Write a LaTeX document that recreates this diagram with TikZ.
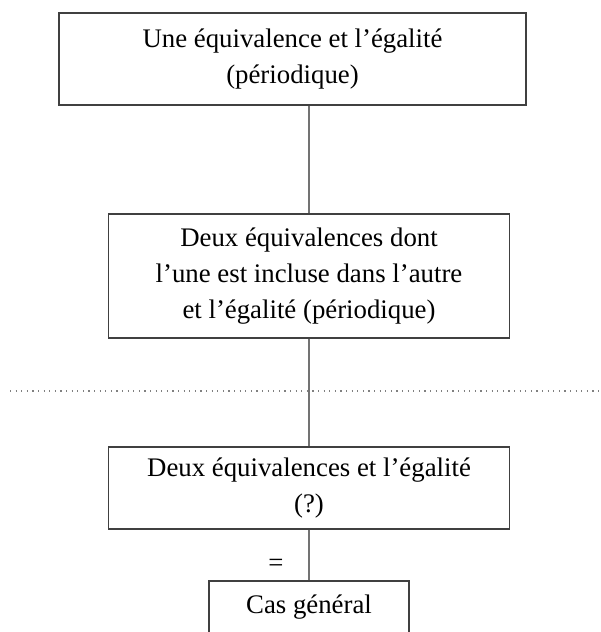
\documentclass[tikz,border=0pt]{standalone}
\usepackage{fontspec}
\setmainfont{Liberation Serif}

\tikzset{
  kasten/.style={draw=black!75, line width=0.6pt, align=center, inner sep=0pt,
    font=\fontsize{13.4}{18}\selectfont},
  verbindung/.style={draw=black!55, line width=0.6pt},
}

\begin{document}
\begin{tikzpicture}[x=0.5pt, y=-0.5pt]
  \useasboundingbox (0,0) rectangle (600,632);

  % Kästen
  \node[kasten, minimum width=233.5pt, minimum height=46pt] (eins) at (292.5,59)
    {Une équivalence et l’égalité\\(périodique)};
  \node[kasten, minimum width=200.5pt, minimum height=62pt] (zwei) at (309,276)
    {Deux équivalences dont\\l’une est incluse dans l’autre\\et l’égalité (périodique)};
  \node[kasten, minimum width=200.5pt, minimum height=41pt] (drei) at (309,488)
    {Deux équivalences et l’égalité\\(?)};
  \node[kasten, minimum width=100pt, minimum height=26pt] (vier) at (309,607)
    {Cas général};

  % Trennlinie
  \coordinate (trennL) at (10,391);
  \coordinate (trennR) at (600,391);
  \draw[gray, line width=0.6pt, dash pattern=on 0.6pt off 2.2pt] (trennL) -- (trennR);

  % Verbindungen
  \draw[verbindung] (eins.south -| zwei.north) -- (zwei.north);
  \draw[verbindung] (zwei) -- (drei);
  \draw[verbindung] (drei) -- node[pos=0.7, left, inner sep=12.5pt,
    font=\fontsize{13.4}{18}\selectfont] (gleich) {=} (vier);
\end{tikzpicture}
\end{document}
